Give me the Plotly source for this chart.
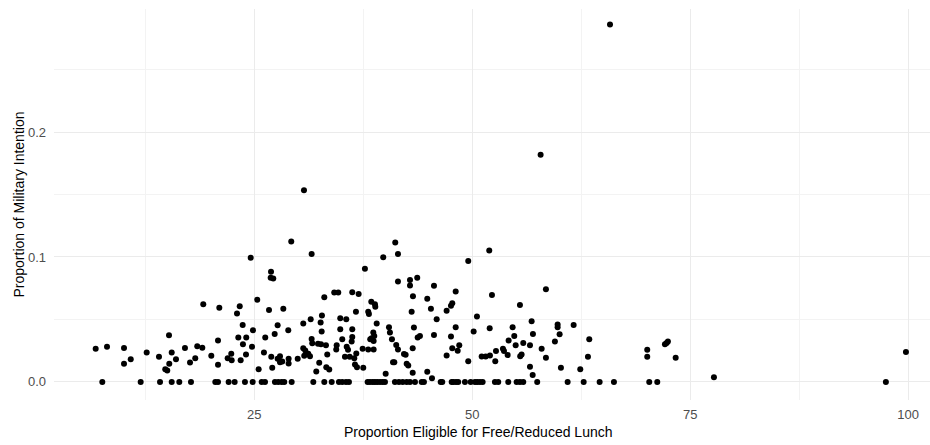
import plotly.graph_objects as go

# Points at y = 0 (Proportion of Military Intention = 0)
zero_x = [7.57, 11.97, 14.19, 15.53, 16.40, 17.74, 20.53, 20.84, 22.06, 22.75,
          23.93, 24.82, 25.85, 26.23, 27.37, 27.75, 28.14, 28.44, 29.29, 31.77,
          33.03, 33.88, 34.71, 35.09, 35.52, 35.86, 38.00, 38.27, 38.58, 38.84,
          39.11, 39.42, 39.72, 39.99, 41.13, 41.59, 42.02, 42.48, 42.86, 43.43,
          44.20, 44.46, 46.38, 46.56, 47.64, 47.82, 48.13, 48.39, 49.16, 49.82,
          50.31, 50.57, 50.88, 51.19, 52.60, 52.98, 54.13, 55.09, 55.47, 55.85,
          57.45, 60.94, 62.78, 64.61, 66.25, 70.30, 71.22, 97.44]

# Points with positive values
pos_x = [24.59, 25.34, 19.15, 20.99, 23.02, 23.33, 23.67, 24.85, 23.17, 24.08,
         15.22, 20.84, 23.70, 24.74, 6.81, 8.11, 10.06, 12.66, 15.53, 17.05,
         18.46, 19.04, 10.83, 10.06, 14.07, 16.02, 15.25, 14.79, 15.02, 17.63,
         18.23, 20.07, 20.84, 21.95, 22.36, 22.41, 23.44, 24.05, 25.50,
         29.24, 31.58, 26.92, 26.88, 27.18, 39.79, 41.17, 41.48, 37.69, 41.48,
         42.86, 43.69, 42.86, 45.61, 33.03, 34.17, 34.63, 36.24, 36.97, 26.69,
         28.33, 36.66, 38.42, 38.84, 38.88, 38.07, 38.15, 43.05, 43.20, 44.84,
         45.26, 45.92, 45.61, 31.47, 32.76, 34.86, 35.55, 32.61, 32.73, 30.62,
         28.90, 27.68, 26.26, 27.34, 34.86, 36.24, 36.24, 35.09, 36.17, 40.45,
         40.56, 40.79, 43.31, 43.74, 44.00, 38.65, 38.76, 38.46, 38.69, 38.30,
         39.04, 31.58, 31.65, 32.31, 32.65, 30.62, 30.85, 31.19, 30.73, 33.22,
         33.37, 34.45, 34.40, 35.60, 35.75, 35.40, 35.94, 36.47, 36.70, 36.55,
         36.78, 37.43, 38.07, 38.69, 37.50, 32.45, 32.11, 33.26, 33.60, 26.11,
         26.95, 27.06, 27.68, 27.95, 28.21, 28.94, 28.94, 27.95, 29.98, 31.39,
         40.07, 42.17, 42.36, 40.91, 41.06, 41.28, 41.48, 42.48, 42.66, 43.17,
         43.17, 44.84, 45.38,
         51.95, 49.54, 58.45, 48.10, 52.26, 47.71, 47.56, 47.06, 55.47, 50.54,
         48.10, 47.56, 50.16, 52.00, 56.81, 54.63, 54.82, 54.17, 54.98, 55.85,
         56.62, 56.96, 59.79, 59.79, 60.02, 59.48, 61.63, 63.42, 63.27, 57.96,
         58.45, 48.51, 48.33, 47.71, 47.06, 49.54, 51.08, 51.54, 52.03, 52.72,
         52.64, 53.52, 53.64, 54.06, 55.50, 55.66, 56.62, 56.93, 60.17, 62.39,
         70.07, 70.07, 72.10, 72.29, 72.44, 73.33, 77.72, 99.74,
         57.84, 30.70, 65.80]

pos_y = [0.0994, 0.0658, 0.0621, 0.0594, 0.0548, 0.0605, 0.0456, 0.0414, 0.0355, 0.0355,
         0.0373, 0.0331, 0.0301, 0.0282, 0.0266, 0.0282, 0.0271, 0.0236, 0.0236, 0.0271,
         0.0285, 0.0274, 0.0182, 0.0145, 0.0202, 0.0182, 0.0145, 0.0102, 0.0091, 0.0156,
         0.0190, 0.0210, 0.0137, 0.0190, 0.0226, 0.0174, 0.0174, 0.0220, 0.0102,
         0.1123, 0.1024, 0.0881, 0.0833, 0.0827, 0.0997, 0.1115, 0.1024, 0.0906, 0.0803,
         0.0815, 0.0833, 0.0771, 0.0769, 0.0677, 0.0715, 0.0715, 0.0718, 0.0704, 0.0575,
         0.0585, 0.0561, 0.0642, 0.0621, 0.0602, 0.0561, 0.0543, 0.0561, 0.0685, 0.0666,
         0.0585, 0.0502, 0.0376, 0.0502, 0.0532, 0.0510, 0.0502, 0.0476, 0.0403, 0.0468,
         0.0414, 0.0454, 0.0355, 0.0384, 0.0422, 0.0422, 0.0360, 0.0341, 0.0323, 0.0438,
         0.0395, 0.0341, 0.0435, 0.0355, 0.0368, 0.0395, 0.0368, 0.0349, 0.0327, 0.0341,
         0.0468, 0.0344, 0.0309, 0.0306, 0.0301, 0.0269, 0.0252, 0.0226, 0.0210, 0.0293,
         0.0220, 0.0293, 0.0260, 0.0282, 0.0258, 0.0202, 0.0202, 0.0190, 0.0228, 0.0140,
         0.0118, 0.0266, 0.0260, 0.0260, 0.0113, 0.0153, 0.0083, 0.0118, 0.0099, 0.0236,
         0.0202, 0.0113, 0.0185, 0.0206, 0.0164, 0.0185, 0.0148, 0.0158, 0.0185, 0.0206,
         0.0065, 0.0223, 0.0218, 0.0158, 0.0158, 0.0295, 0.0260, 0.0145, 0.0131, 0.0073,
         0.0269, 0.0081, 0.0029,
         0.1051, 0.0968, 0.0742, 0.0723, 0.0696, 0.0629, 0.0610, 0.0569, 0.0615, 0.0524,
         0.0438, 0.0363, 0.0403, 0.0430, 0.0486, 0.0438, 0.0368, 0.0331, 0.0293, 0.0311,
         0.0293, 0.0384, 0.0460, 0.0438, 0.0381, 0.0323, 0.0456, 0.0341, 0.0202, 0.0266,
         0.0194, 0.0293, 0.0250, 0.0269, 0.0212, 0.0166, 0.0204, 0.0204, 0.0212, 0.0247,
         0.0166, 0.0266, 0.0247, 0.0215, 0.0206, 0.0220, 0.0121, 0.0056, 0.0113, 0.0102,
         0.0258, 0.0202, 0.0301, 0.0311, 0.0323, 0.0194, 0.0037, 0.0239,
         0.1819, 0.1535, 0.2860]

x_vals = zero_x + pos_x
y_vals = [0.0] * len(zero_x) + pos_y

x_ticks = [25, 50, 75, 100]
y_ticks = [0.0, 0.1, 0.2]
y_tick_text = ["0.0", "0.1", "0.2"]

x_title = "Proportion Eligible for Free/Reduced Lunch"
y_title = "Proportion of Military Intention"

fig = go.Figure()
fig.add_trace(go.Scatter(
    x=x_vals, y=y_vals, mode="markers",
    marker=dict(color="black", size=6, line=dict(width=0)),
    hoverinfo="x+y", showlegend=False,
))

grid_major = "#EBEBEB"
grid_minor = "#F3F3F3"
font_family = "Liberation Sans, Arial, sans-serif"
tick_font = dict(family=font_family, size=13, color="#4D4D4D")
title_font = dict(family=font_family, size=14, color="black")

fig.update_layout(
    width=930, height=445,
    margin=dict(l=54, r=0, t=9, b=45, autoexpand=False),
    paper_bgcolor="white", plot_bgcolor="white",
    xaxis=dict(
        range=[2.03, 102.5], automargin=False,
        tickvals=x_ticks, ticktext=[str(v) for v in x_ticks],
        showgrid=True, gridcolor=grid_major, gridwidth=1,
        minor=dict(showgrid=True, gridcolor=grid_minor, gridwidth=1, tick0=0, dtick=12.5),
        zeroline=False, showline=False, ticks="",
        tickfont=tick_font, ticklabelstandoff=5,
    ),
    yaxis=dict(
        range=[-0.0145, 0.2985], automargin=False,
        tickvals=y_ticks, ticktext=y_tick_text,
        showgrid=True, gridcolor=grid_major, gridwidth=1,
        minor=dict(showgrid=True, gridcolor=grid_minor, gridwidth=1, tick0=0, dtick=0.05),
        zeroline=False, showline=False, ticks="",
        tickfont=tick_font, ticklabelstandoff=7,
    ),
    annotations=[
        dict(text=x_title, xref="paper", yref="paper", x=0.485, y=0,
             xanchor="center", yanchor="middle", yshift=-31.5,
             showarrow=False, font=title_font),
        dict(text=y_title, xref="paper", yref="paper", x=0, y=0.5,
             xanchor="center", yanchor="middle", xshift=-36, textangle=-90,
             showarrow=False, font=title_font),
    ],
)

fig.write_html(
    "out.html",
    config={"displayModeBar": False},
    post_script="document.body.style.margin='0';document.body.style.overflow='hidden';",
)
